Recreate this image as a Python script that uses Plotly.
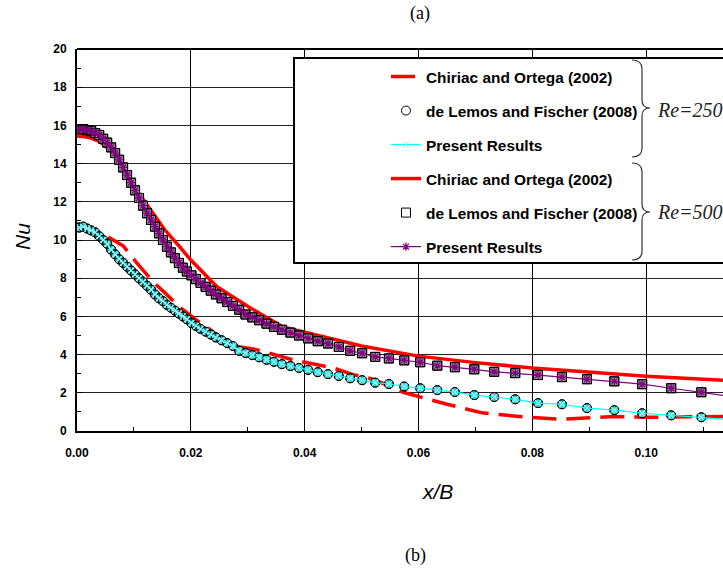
import plotly.graph_objects as go

# ---------------- data ----------------
# shared x stations of the de Lemos & Fischer / present-results data
x_pts = [0.0004, 0.0011, 0.0018, 0.0025, 0.0032, 0.0039, 0.0046, 0.0053, 0.006, 0.0067,
         0.0074, 0.0081, 0.0088, 0.0095, 0.0102, 0.0109, 0.0116, 0.0123, 0.013, 0.0137,
         0.0144, 0.0151, 0.0158, 0.0165, 0.0172, 0.0179, 0.0186, 0.0193, 0.0201, 0.0209,
         0.0217, 0.0226, 0.0235, 0.0244, 0.0254, 0.0264, 0.0274, 0.0285, 0.0296, 0.0308,
         0.032, 0.0333, 0.0346, 0.036, 0.0375, 0.039, 0.0406, 0.0423, 0.0441, 0.046,
         0.048, 0.0501, 0.0524, 0.0548, 0.0575, 0.0603, 0.0633, 0.0664, 0.0698, 0.0733,
         0.077, 0.081, 0.0852, 0.0896, 0.0944, 0.0993, 0.1044, 0.1097, 0.1152]

delemos_re250 = [10.65, 10.7, 10.6, 10.5, 10.4, 10.2, 10.0, 9.8, 9.5, 9.25,
                 9.0, 8.8, 8.6, 8.4, 8.2, 8.0, 7.8, 7.6, 7.4, 7.15,
                 6.95, 6.8, 6.6, 6.45, 6.3, 6.15, 6.0, 5.85, 5.65, 5.5,
                 5.35, 5.2, 5.05, 4.9, 4.75, 4.6, 4.45, 4.2, 4.08, 3.97,
                 3.86, 3.73, 3.62, 3.5, 3.4, 3.3, 3.2, 3.08, 2.98, 2.88,
                 2.76, 2.66, 2.53, 2.46, 2.33, 2.24, 2.14, 2.04, 1.88, 1.78,
                 1.66, 1.46, 1.4, 1.2, 1.09, 0.93, 0.82, 0.72, 0.58]
present_re250 = list(delemos_re250)

delemos_re500 = [15.8, 15.8, 15.75, 15.7, 15.6, 15.5, 15.3, 15.1, 14.85, 14.55,
                 14.2, 13.8, 13.4, 13.0, 12.6, 12.2, 11.8, 11.4, 11.05, 10.7,
                 10.35, 10.0, 9.65, 9.35, 9.05, 8.8, 8.55, 8.35, 8.15, 7.95,
                 7.75, 7.55, 7.35, 7.15, 6.95, 6.75, 6.55, 6.35, 6.1, 5.95,
                 5.8, 5.62, 5.45, 5.3, 5.15, 5.0, 4.85, 4.7, 4.58, 4.4,
                 4.2, 4.07, 3.88, 3.8, 3.7, 3.6, 3.42, 3.34, 3.23, 3.1,
                 3.03, 2.93, 2.82, 2.71, 2.6, 2.45, 2.24, 2.03, 1.8]
present_re500 = list(delemos_re500)

chiriac250_x = [0.0, 0.002, 0.0046, 0.0081, 0.0105, 0.0134, 0.0155, 0.018, 0.021, 0.0228,
                0.0257, 0.0275, 0.031, 0.0357, 0.038, 0.0433, 0.045, 0.0485, 0.052, 0.0573,
                0.065, 0.0712, 0.079, 0.0851, 0.0942, 0.1007, 0.1135]
chiriac250_y = [10.85, 10.65, 10.3, 9.7, 8.8, 7.8, 7.22, 6.5, 5.8, 5.45,
                4.76, 4.45, 4.3, 3.9, 3.72, 3.4, 3.3, 2.95, 2.72, 2.03,
                1.4, 0.95, 0.72, 0.62, 0.76, 0.72, 0.76]

chiriac500_x = [0.0, 0.002, 0.004, 0.006, 0.0093, 0.0128, 0.0155, 0.0181, 0.02, 0.0246,
                0.0304, 0.0362, 0.045, 0.05, 0.06, 0.07, 0.08, 0.09, 0.1, 0.1135]
chiriac500_y = [15.45, 15.38, 15.15, 14.65, 13.1, 11.6, 10.5, 9.63, 8.95, 7.55,
                6.45, 5.45, 4.8, 4.45, 3.92, 3.58, 3.3, 3.07, 2.87, 2.66]

x_ticks = [0.0, 0.02, 0.04, 0.06, 0.08, 0.10]
x_ticktext = ["0.00", "0.02", "0.04", "0.06", "0.08", "0.10"]
y_ticks = [0, 2, 4, 6, 8, 10, 12, 14, 16, 18, 20]

# ---------------- figure ----------------
W, H = 723, 570
ML, MR, MT, MB = 77, 0, 49, 139
PW, PH = W - ML - MR, H - MT - MB


def px(xp):
    return (xp - ML) / PW


def py(yp):
    return (H - MB - yp) / PH


RED = "#FF0000"
CYAN = "#00FFFF"
CYFILL = "#33D6D6"
PURPLE = "#800080"
GREY = "#999999"

fig = go.Figure()

# Re = 250
fig.add_trace(go.Scatter(x=chiriac250_x, y=chiriac250_y, mode="lines",
                         name="Chiriac and Ortega (2002)", legendgroup="a",
                         line=dict(color=RED, width=3.5, dash="24px,10px")))
fig.add_trace(go.Scatter(x=x_pts, y=delemos_re250, mode="markers", showlegend=False,
                         marker=dict(symbol="circle", size=9, color=CYFILL,
                                     line=dict(color="black", width=1))))
fig.add_trace(go.Scatter(x=x_pts, y=delemos_re250, mode="markers",
                         name="de Lemos and Fischer (2008)", legendgroup="b",
                         marker=dict(symbol="circle-open", size=9, color="black",
                                     line=dict(color="black", width=1))))
fig.add_trace(go.Scatter(x=x_pts, y=present_re250, mode="lines+markers",
                         name="Present Results", legendgroup="c",
                         line=dict(color=CYAN, width=1.2),
                         marker=dict(symbol="x-thin-open", size=6, color="#9FF8F8",
                                     line=dict(color="#B0FFFF", width=1.2))))

# Re = 500
fig.add_trace(go.Scatter(x=chiriac500_x, y=chiriac500_y, mode="lines",
                         name="Chiriac and Ortega (2002)", legendgroup="d",
                         line=dict(color=RED, width=3.5)))
fig.add_trace(go.Scatter(x=x_pts, y=delemos_re500, mode="markers", showlegend=False,
                         marker=dict(symbol="square", size=9, color=GREY,
                                     line=dict(color="black", width=1))))
fig.add_trace(go.Scatter(x=x_pts, y=delemos_re500, mode="markers",
                         name="de Lemos and Fischer (2008)", legendgroup="e",
                         marker=dict(symbol="square-open", size=9, color="black",
                                     line=dict(color="black", width=1))))
fig.add_trace(go.Scatter(x=x_pts, y=present_re500, mode="lines+markers",
                         name="Present Results", legendgroup="f",
                         line=dict(color=PURPLE, width=1.2),
                         marker=dict(symbol="asterisk-open", size=7, color=PURPLE,
                                     line=dict(color=PURPLE, width=1.3))))

tickfont = dict(family="Arial, Liberation Sans", size=12, color="black", weight="bold")

fig.update_xaxes(range=[0, 0.1135], tickvals=x_ticks, ticktext=x_ticktext,
                 showgrid=True, gridcolor="black", gridwidth=1, zeroline=False,
                 showline=True, linecolor="black", linewidth=2,
                 ticks="inside", ticklen=5, tickcolor="black", tickfont=tickfont,
                 ticklabelstandoff=10,
                 minor=dict(dtick=0.01, tick0=0, ticks="inside", ticklen=4,
                            tickcolor="black", showgrid=False))
fig.update_yaxes(range=[0, 20], tickvals=y_ticks,
                 showgrid=True, gridcolor="#222222", gridwidth=1, zeroline=False,
                 showline=True, linecolor="black", linewidth=2,
                 ticks="inside", ticklen=5, tickcolor="black", tickfont=tickfont,
                 ticklabelstandoff=6,
                 minor=dict(dtick=1, tick0=0, ticks="inside", ticklen=4,
                            tickcolor="black", showgrid=False))

# top frame line, legend box and braces
shapes = [
    dict(type="line", xref="paper", yref="paper", x0=0, x1=1, y0=1, y1=1,
         line=dict(color="black", width=2)),
    dict(type="rect", xref="paper", yref="paper", x0=px(294), x1=px(745),
         y0=py(263), y1=py(58), fillcolor="white", line=dict(color="black", width=2),
         layer="above"),
]


def brace(top, mid, bot, xl=632, xv=642, xt=650):
    pts = (f"M {px(xl)},{py(top)} Q {px(xv)},{py(top)} {px(xv)},{py(top + 9)} "
           f"L {px(xv)},{py(mid - 8)} Q {px(xv)},{py(mid)} {px(xt)},{py(mid)} "
           f"Q {px(xv)},{py(mid)} {px(xv)},{py(mid + 8)} "
           f"L {px(xv)},{py(bot - 9)} Q {px(xv)},{py(bot)} {px(xl)},{py(bot)}")
    return dict(type="path", xref="paper", yref="paper", path=pts,
                line=dict(color="#333333", width=1.2), layer="above")


shapes.append(brace(60, 108, 157))
shapes.append(brace(163, 212, 260))

serif_it = dict(family="Liberation Serif, Times New Roman", size=20, color="#222222",
                style="italic")
sans_it = dict(family="Arial, Liberation Sans", size=21, style="italic", color="black")
serif = dict(family="Liberation Serif, Times New Roman", size=18, color="black")


def note(text, x, y, font, xanchor="center", angle=0):
    return dict(text=text, xref="paper", yref="paper", x=px(x), y=py(y),
                showarrow=False, xanchor=xanchor, yanchor="middle",
                textangle=angle, font=font)


annotations = [
    note("Nu", 22, 237, sans_it, angle=-90),
    note("x/B", 437, 491, sans_it),
    note("(a)", 420, 13, serif),
    note("(b)", 416, 555, serif),
    note("Re=250", 655, 110, serif_it, xanchor="left"),
    note("Re=500", 655, 212, serif_it, xanchor="left"),
]

fig.update_layout(
    width=W, height=H,
    margin=dict(l=ML, r=MR, t=MT, b=MB),
    paper_bgcolor="white", plot_bgcolor="white",
    shapes=shapes, annotations=annotations,
    showlegend=True,
    legend=dict(x=px(386), y=py(60), xanchor="left", yanchor="top",
                bgcolor="rgba(0,0,0,0)", borderwidth=0,
                traceorder="grouped", tracegroupgap=11,
                font=dict(family="Arial, Liberation Sans", size=15.4, color="black",
                          weight="bold")),
)

fig.write_html("out.html")
